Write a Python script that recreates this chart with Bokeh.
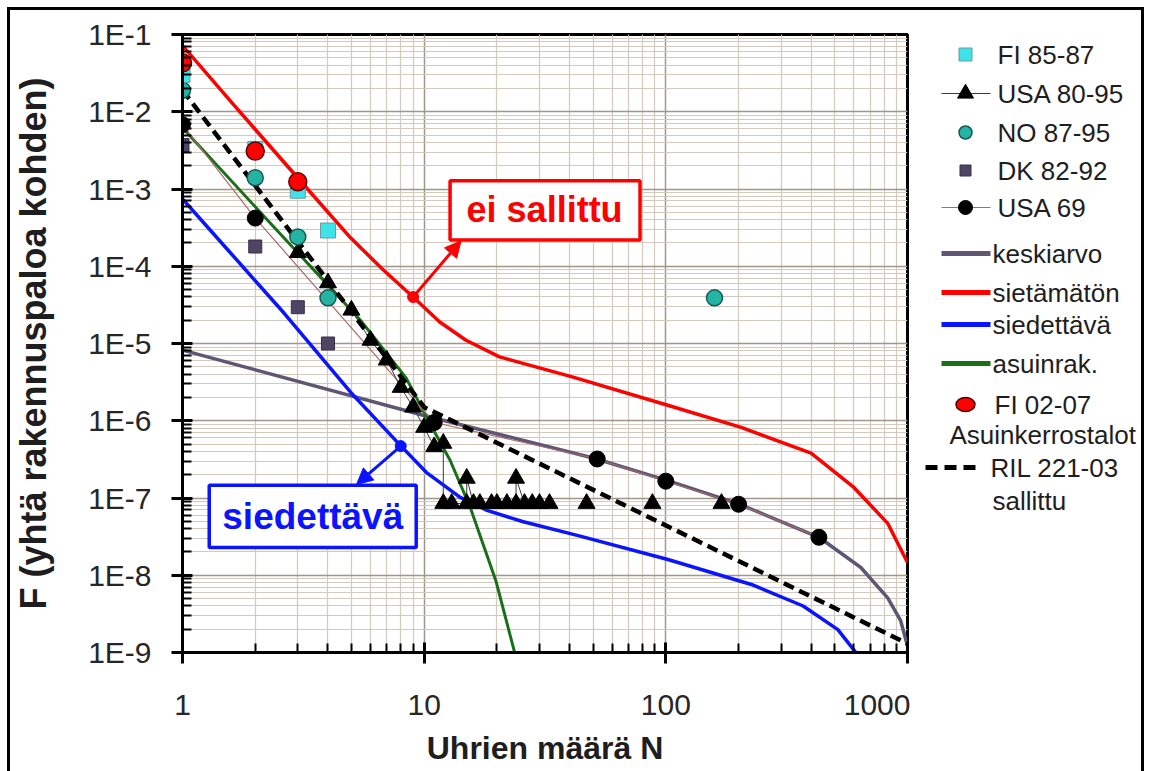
from bokeh.plotting import figure
from bokeh.layouts import row
from bokeh.models import (Range1d, FixedTicker, CustomJSTickFormatter,
                          BoxAnnotation, Label, Arrow, NormalHead)
from bokeh.core.properties import value
from bokeh.embed import file_html
from bokeh.resources import INLINE

# ---------------- data: N = number of victims, F = frequency per building fire ----------------
fi85_n = [1, 2, 3, 4]
fi85_f = [3.0e-2, 3.3e-3, 9.5e-4, 2.9e-4]

usa8095_n = [3, 4, 5, 6, 7, 8, 9, 10, 11, 12, 12, 13, 15, 15, 16, 17, 19, 20, 22, 24, 24,
             26, 28, 30, 33, 47, 88, 170]
usa8095_f = [1.5e-4, 6.1e-5, 2.7e-5, 1.1e-5, 6.1e-6, 2.7e-6, 1.5e-6, 8.2e-7, 4.6e-7, 5.1e-7,
             8.5e-8, 8.5e-8, 8.5e-8, 1.8e-7, 8.5e-8, 8.5e-8, 8.5e-8, 8.5e-8, 8.5e-8, 8.5e-8,
             1.8e-7, 8.5e-8, 8.5e-8, 8.5e-8, 8.5e-8, 8.5e-8, 8.5e-8, 8.5e-8]

no8795_n = [1, 2, 3, 4, 159]
no8795_f = [1.9e-2, 1.4e-3, 2.4e-4, 3.9e-5, 3.9e-5]

dk8292_n = [1, 2, 3, 4]
dk8292_f = [3.7e-3, 1.8e-4, 2.95e-5, 1.0e-5]

usa69_n = [1, 2, 11, 52, 100, 200, 430]
usa69_f = [6.8e-3, 4.2e-4, 9.5e-7, 3.2e-7, 1.65e-7, 8.3e-8, 3.1e-8]

fi0207_n = [1, 2, 3]
fi0207_f = [4.3e-2, 3.1e-3, 1.24e-3]

keskiarvo_n = [1, 9.9, 50.5, 101, 202, 430, 641, 828, 936, 1000]
keskiarvo_f = [8.2e-6, 1.18e-6, 3.27e-7, 1.69e-7, 8.3e-8, 3.1e-8, 1.26e-8, 5.1e-9, 2.6e-9, 1.22e-9]

sietamaton_n = [1, 1.64, 2.97, 4.96, 6.78, 9.0, 11.6, 14.9, 20.5, 41, 101, 205, 399, 600, 828, 1000]
sietamaton_f = [7.2e-2, 1.2e-2, 1.44e-3, 2.33e-4, 8.95e-5, 4.0e-5, 1.9e-5, 1.1e-5, 6.7e-6,
                3.7e-6, 1.6e-6, 8.2e-7, 3.8e-7, 1.37e-7, 4.7e-8, 1.46e-8]

siedettava_n = [1, 1.49, 2.63, 4.96, 7.97, 10.2, 14.1, 18.2, 25.5, 43, 102, 226, 370, 515, 671]
siedettava_f = [7.46e-4, 1.83e-4, 2.48e-5, 2.34e-6, 4.8e-7, 2.15e-7, 1.02e-7, 6.9e-8, 4.97e-8,
                3.28e-8, 1.6e-8, 7.6e-9, 4.0e-9, 1.98e-9, 6.9e-10]

asuinrak_n = [1, 2.24, 5.45, 8.43, 10.4, 12.8, 15.5, 19.8, 23.7]
asuinrak_f = [6.2e-3, 4.0e-4, 2.0e-5, 3.56e-6, 1.01e-6, 3.08e-7, 7.6e-8, 8.5e-9, 9.9e-10]

ril_n = [1, 10, 1000]
ril_f = [1.9e-2, 1.5e-6, 1.3e-9]

# points on the limit curves that the callout arrows start from
ei_sallittu_point = (9.0, 4.0e-5)
siedettava_point = (8.0, 4.7e-7)

x_major = [1, 10, 100, 1000]
y_major = [10.0 ** k for k in range(-9, 0)]

FONT = "Liberation Sans"

COL_FI85 = "#3de3e8"
COL_NO = "#25b3a3"
COL_DK = "#4d4563"
COL_KESK = "#5e5672"
COL_RED = "#ff0000"
COL_BLUE = "#0a14ff"
COL_GREEN = "#1b6f1b"
COL_USA69_LINE = "#a86a6a"
COL_USA8095_LINE = "#3a3a3a"

# ---------------- main chart ----------------
BORDER_TOP, BORDER_BOTTOM, HEIGHT = 24, 128, 770
p = figure(width=900, height=HEIGHT, x_axis_type="log", y_axis_type="log",
           x_range=Range1d(1, 1000), y_range=Range1d(1e-9, 1e-1),
           output_backend="svg", toolbar_location=None,
           min_border_left=167, min_border_right=3,
           min_border_top=BORDER_TOP, min_border_bottom=BORDER_BOTTOM,
           background_fill_color="white", border_fill_color="white")

p.outline_line_color = "black"
p.outline_line_width = 3

x_minor = [m * d for d in (1, 10, 100) for m in range(2, 10)]
y_minor = [m * d for d in y_major[:-1] for m in range(2, 10)]
xticker = FixedTicker(ticks=x_major, minor_ticks=x_minor)
yticker = FixedTicker(ticks=y_major, minor_ticks=y_minor)

p.xaxis.ticker = xticker
p.yaxis.ticker = yticker
p.xgrid.ticker = xticker
p.ygrid.ticker = yticker
p.xaxis.formatter = CustomJSTickFormatter(code="return Math.round(tick).toString();")
p.yaxis.formatter = CustomJSTickFormatter(code="return '1E' + Math.round(Math.log10(tick));")

for ax in (p.xaxis[0], p.yaxis[0]):
    ax.axis_line_color = "black"
    ax.axis_line_width = 3
    ax.major_tick_line_color = "black"
    ax.major_tick_line_width = 3
    ax.minor_tick_line_color = "black"
    ax.minor_tick_line_width = 2
    ax.major_tick_in = 10
    ax.major_tick_out = 11
    ax.minor_tick_in = 9
    ax.minor_tick_out = 0
    ax.major_label_text_font = FONT
    ax.major_label_text_font_size = "30px"
    ax.major_label_text_color = "#262626"
    ax.axis_label_text_font = FONT
    ax.axis_label_text_font_style = "bold"
    ax.axis_label_text_color = "#1e1e1e"

p.xaxis.axis_label = "Uhrien määrä N"
p.xaxis.axis_label_text_font_size = "32px"
p.xaxis.major_label_standoff = 31
p.xaxis.axis_label_standoff = 12

p.yaxis.axis_label = "F (yhtä rakennuspaloa kohden)"
p.yaxis.axis_label_text_font_size = "36px"
p.yaxis.major_label_standoff = 20
p.yaxis.axis_label_standoff = 31

for g in (p.xgrid[0], p.ygrid[0]):
    g.grid_line_color = "#a0968a"
    g.grid_line_width = 1.5
    g.minor_grid_line_color = "#d3cabd"
    g.minor_grid_line_width = 1.2

# limit curves and reference lines
p.line(keskiarvo_n, keskiarvo_f, line_color=COL_KESK, line_width=3.5)
p.line(sietamaton_n, sietamaton_f, line_color=COL_RED, line_width=3.5)
p.line(siedettava_n, siedettava_f, line_color=COL_BLUE, line_width=3.5)
p.line(asuinrak_n, asuinrak_f, line_color=COL_GREEN, line_width=3)
p.line(usa69_n, usa69_f, line_color=COL_USA69_LINE, line_width=1.2)
p.line(usa8095_n[:25], usa8095_f[:25], line_color=COL_USA8095_LINE, line_width=1)
p.line(ril_n, ril_f, line_color="black", line_width=4.5, line_dash="11 6")

# observations
p.scatter(dk8292_n, dk8292_f, marker="square", size=13,
          fill_color=COL_DK, line_color="#38304a", line_width=1)
p.scatter(usa8095_n, usa8095_f, marker="triangle", size=17,
          fill_color="black", line_color="black")
p.scatter(no8795_n, no8795_f, marker="circle", size=16,
          fill_color=COL_NO, line_color="#175a52", line_width=1.5)
p.scatter(usa69_n, usa69_f, marker="circle", size=16,
          fill_color="black", line_color="black")
p.scatter(fi85_n, fi85_f, marker="square", size=15,
          fill_color=COL_FI85, line_color="#6d9aa0", line_width=1)
p.scatter(fi0207_n, fi0207_f, marker="circle", size=18,
          fill_color=COL_RED, line_color="#5a0000", line_width=1.5)

# callouts
p.add_layout(BoxAnnotation(left=12.8, right=78.2, bottom=2.19e-4, top=1.28e-3,
                           fill_color="white", fill_alpha=1,
                           line_color=COL_RED, line_alpha=1, line_width=3.5))
p.add_layout(Label(x=31.5, y=5.37e-4, text="ei sallittu", text_align="center",
                   text_baseline="middle", text_font=FONT, text_font_style="bold",
                   text_font_size="36px", text_color=COL_RED))
p.add_layout(Arrow(end=NormalHead(size=16, fill_color=COL_RED, line_color=COL_RED),
                   x_start=ei_sallittu_point[0], y_start=ei_sallittu_point[1],
                   x_end=14.2, y_end=2.13e-4, line_color=COL_RED, line_width=3))
p.scatter([ei_sallittu_point[0]], [ei_sallittu_point[1]], marker="circle", size=11,
          fill_color=COL_RED, line_color=COL_RED)

p.add_layout(BoxAnnotation(left=1.29, right=9.27, bottom=2.29e-8, top=1.46e-7,
                           fill_color="white", fill_alpha=1,
                           line_color=COL_BLUE, line_alpha=1, line_width=3.5))
p.add_layout(Label(x=3.46, y=5.77e-8, text="siedettävä", text_align="center",
                   text_baseline="middle", text_font=FONT, text_font_style="bold",
                   text_font_size="37px", text_color=COL_BLUE))
p.add_layout(Arrow(end=NormalHead(size=16, fill_color=COL_BLUE, line_color=COL_BLUE),
                   x_start=siedettava_point[0], y_start=siedettava_point[1],
                   x_end=5.25, y_end=1.5e-7, line_color=COL_BLUE, line_width=3))
p.scatter([siedettava_point[0]], [siedettava_point[1]], marker="circle", size=11,
          fill_color=COL_BLUE, line_color=COL_BLUE)

# ---------------- key panel ----------------
# The row aligns this panel's frame with the chart frame, so its ranges are expressed in
# page pixels: x from the panel's left edge, y from the top of the page (growing downward).
PAGE_OFFSET = 10
frame_top = PAGE_OFFSET + BORDER_TOP
frame_bottom = PAGE_OFFSET + HEIGHT - BORDER_BOTTOM
KW = 231
key = figure(width=KW, height=HEIGHT, x_range=Range1d(910, 910 + KW),
             y_range=Range1d(frame_bottom, frame_top),
             output_backend="svg", toolbar_location=None, min_border=0,
             min_border_top=BORDER_TOP, min_border_bottom=BORDER_BOTTOM,
             x_axis_location=None, y_axis_location=None,
             background_fill_color="white", border_fill_color="white")
key.grid.visible = False
key.outline_line_color = None

MX = 965            # marker column
LX = [941, 990]     # line sample span
key_font = dict(text_font=value(FONT), text_font_size="26px", text_color="#1e1e1e",
                text_baseline="middle")

key.scatter([MX], [54], marker="square", size=13, fill_color=COL_FI85,
            line_color="#6d9aa0", line_width=1)
key.line(LX, [93, 93], line_color=COL_USA8095_LINE, line_width=1)
key.scatter([MX], [93], marker="triangle", size=16, fill_color="black", line_color="black")
key.scatter([MX], [132], marker="circle", size=13, fill_color=COL_NO,
            line_color="#175a52", line_width=1.5)
key.scatter([MX], [170], marker="square", size=11, fill_color=COL_DK,
            line_color="#38304a", line_width=1)
key.line(LX, [207, 207], line_color=COL_USA69_LINE, line_width=1.2)
key.scatter([MX], [207], marker="circle", size=14, fill_color="black", line_color="black")
for yy, col in ((253, COL_KESK), (292, COL_RED), (324, COL_BLUE), (363, COL_GREEN)):
    key.line(LX, [yy, yy], line_color=col, line_width=5)
key.ellipse([MX], [404], width=19, height=14, fill_color=COL_RED,
            line_color="#5a0000", line_width=1.5)
key.line([925, 982], [467, 467], line_color="black", line_width=5, line_dash="12 7")

key.text(x=[997] * 5, y=[54, 93, 132, 170, 207],
         text=["FI 85-87", "USA 80-95", "NO 87-95", "DK 82-92", "USA 69"], **key_font)
key.text(x=[992] * 4, y=[253, 292, 324, 363],
         text=["keskiarvo", "sietämätön", "siedettävä", "asuinrak."], **key_font)
key.text(x=[994, 949, 990, 992], y=[404, 434, 467, 500],
         text=["FI 02-07", "Asuinkerrostalot", "RIL 221-03", "sallittu"], **key_font)

layout = row(p, key, spacing=0)
layout.styles = {"border-top": "3px solid black", "border-left": "3px solid black",
                 "border-right": "3px solid black", "margin-left": "7px", "margin-top": "7px"}

open("out.html", "w").write(file_html(layout, INLINE))
